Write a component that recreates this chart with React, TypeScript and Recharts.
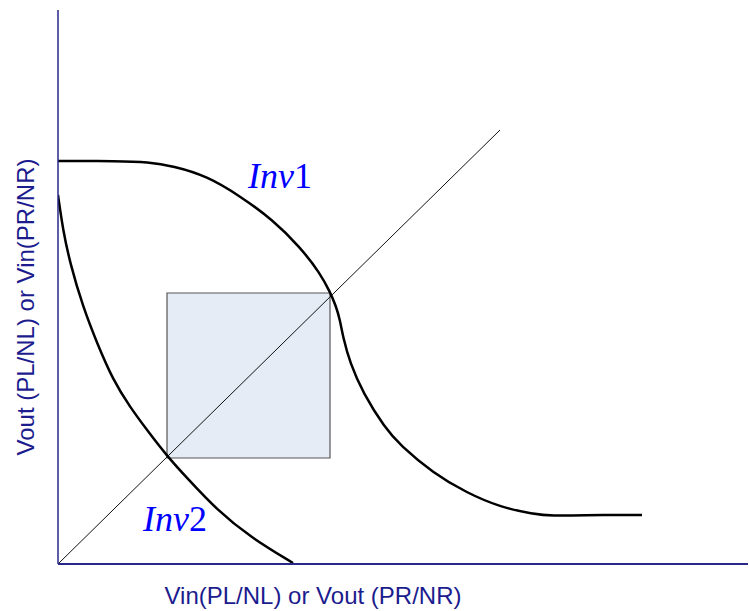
import { LineChart, Line, XAxis, YAxis, ReferenceArea, ReferenceLine } from "recharts";

// Transfer curves of the two cross-coupled inverters, in plot units
// (x: input voltage, y: output voltage; origin at the lower-left corner).
const inv1X = [0, 60, 90, 115, 149, 182, 215, 242, 262, 272, 278, 282, 285, 292, 305, 327, 342, 375, 409, 442, 475, 495, 522, 584];
const inv1Y = [403, 403, 402, 398, 388, 368, 344, 317, 291, 272, 258, 244, 227, 201, 171, 136, 119, 91, 71, 57, 50, 48, 49, 49];

const inv2X = [0, 5, 12, 25, 39, 55, 72, 89, 109, 129, 159, 192, 235];
const inv2Y = [369, 334, 301, 257, 221, 184, 157, 134, 108, 86, 54, 27, 1];

// Unity-gain diagonal and the noise-margin square between the two crossings.
const diagonal = [
  { x: 0, y: 0 },
  { x: 442, y: 434 },
];
const square = { x1: 109, x2: 272, y1: 106, y2: 271 };

const xTitle = "Vin(PL/NL) or Vout (PR/NR)";
const yTitle = "Vout (PL/NL) or Vin(PR/NR)";

const inv1 = inv1X.map((x, i) => ({ x, y: inv1Y[i] }));
const inv2 = inv2X.map((x, i) => ({ x, y: inv2Y[i] }));

const AXIS = "#28288a";
const TITLE = "#1c1c8e";

export default function App() {
  return (
    <div style={{ position: "absolute", left: 0, top: 0, width: 749, height: 611, background: "#fff" }}>
      <LineChart width={749} height={611} margin={{ top: 10, right: 1, bottom: 46, left: 57 }}>
        <XAxis
          type="number"
          dataKey="x"
          domain={[0, 690]}
          height={1}
          tick={false}
          tickLine={false}
          axisLine={{ stroke: AXIS, strokeWidth: 2 }}
          allowDataOverflow
        />
        <YAxis
          type="number"
          dataKey="y"
          domain={[0, 554]}
          width={1}
          tick={false}
          tickLine={false}
          axisLine={{ stroke: AXIS, strokeWidth: 1.5 }}
          allowDataOverflow
        />
        <ReferenceArea
          x1={square.x1}
          x2={square.x2}
          y1={square.y1}
          y2={square.y2}
          fill="#e6ecf6"
          fillOpacity={1}
          stroke="#555"
          strokeWidth={1.2}
        />
        <ReferenceLine segment={diagonal} stroke="#111" strokeWidth={1} />
        <Line
          data={inv1}
          dataKey="y"
          type="basis"
          stroke="#000"
          strokeWidth={2.5}
          dot={false}
          isAnimationActive={false}
        />
        <Line
          data={inv2}
          dataKey="y"
          type="basis"
          stroke="#000"
          strokeWidth={2.5}
          dot={false}
          isAnimationActive={false}
        />
      </LineChart>

      <div
        style={{
          position: "absolute",
          left: 248,
          top: 152,
          fontFamily: "'Liberation Serif', serif",
          fontSize: 36,
          color: "#0000ff",
          lineHeight: "48px",
        }}
      >
        <i>Inv</i>1
      </div>
      <div
        style={{
          position: "absolute",
          left: 143,
          top: 495,
          fontFamily: "'Liberation Serif', serif",
          fontSize: 36,
          color: "#0000ff",
          lineHeight: "48px",
        }}
      >
        <i>Inv</i>2
      </div>

      <div
        style={{
          position: "absolute",
          left: 0,
          width: 626,
          top: 582,
          textAlign: "center",
          fontFamily: "'Liberation Sans', Arial, sans-serif",
          fontSize: 24,
          color: TITLE,
          lineHeight: "28px",
        }}
      >
        {xTitle}
      </div>
      <div
        style={{
          position: "absolute",
          left: 26,
          top: 307,
          transform: "translate(-50%, -50%) rotate(-90deg)",
          whiteSpace: "nowrap",
          fontFamily: "'Liberation Sans', Arial, sans-serif",
          fontSize: 24,
          color: TITLE,
          lineHeight: "28px",
        }}
      >
        {yTitle}
      </div>
    </div>
  );
}
